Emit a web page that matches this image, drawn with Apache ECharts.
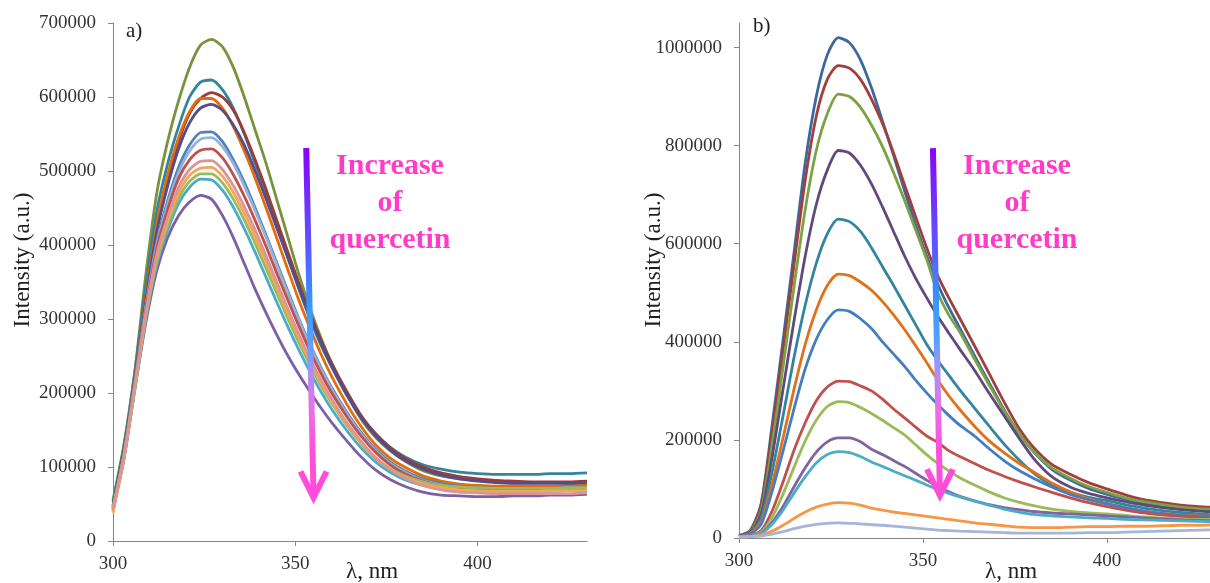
<!DOCTYPE html>
<html>
<head>
<meta charset="utf-8">
<script src="https://cdn.jsdelivr.net/npm/echarts@6/dist/echarts.min.js"></script>
<style>
  html, body { margin: 0; padding: 0; background: #fff; }
  #chart { width: 1210px; height: 583px; }
</style>
</head>
<body>
<div id="chart"></div>
<script>
// wavelength grid (nm), shared by every spectrum
const waves = [300, 303, 306, 309, 312, 315, 318, 321, 324, 327, 330, 333, 336, 339, 342, 345, 348, 351, 354, 357, 360,
  364, 368, 372, 376, 380, 385, 390, 395, 400, 405, 410, 415, 420, 425, 430];

// panel a) intensities, in thousands of a.u.
const aOlive  = [55,130,230,360,470,540,595,640,670,678,668,640,600,555,510,460,410,360,315,275,240, 200,165,140,122,108, 95,88,84,82,80,80,79,79,79,80];
const aTeal   = [52,128,228,345,445,510,560,600,620,623,610,585,550,510,470,425,382,340,300,265,235, 198,168,145,127,114, 103,97,93,91,90,90,90,91,91,92];
const aMaroon = [48,122,220,330,425,490,540,578,598,606,600,582,552,515,475,432,390,348,308,272,240, 203,170,145,126,112, 100,92,87,84,82,81,80,80,80,81];
const aOrange = [40,118,218,330,428,495,545,580,598,598,585,560,527,490,450,408,366,325,288,253,222, 186,155,130,112,100, 88,81,77,75,74,74,74,74,75,75];
const aIndigo = [47,120,218,325,418,480,530,565,585,590,582,562,535,500,462,422,382,342,304,268,236, 199,167,142,123,109, 97,89,84,81,79,78,78,78,78,79];
const aBlue   = [46,118,215,318,405,460,505,535,552,553,540,515,485,450,413,375,337,300,266,235,207, 175,147,124,107,95, 84,78,74,72,71,71,71,71,72,72];
const aSteel  = [45,117,213,315,400,455,498,527,543,545,533,510,480,446,410,372,334,298,264,233,205, 173,145,122,105,93, 82,76,72,70,69,69,69,70,70,71];
const aRed    = [44,116,212,312,395,448,490,515,528,530,518,495,466,433,398,361,325,290,257,227,200, 169,142,120,103,91, 81,75,72,70,69,69,69,69,70,70];
const aPurple = [42,110,205,295,365,410,440,458,467,462,440,410,375,340,308,278,250,225,202,180,160, 136,114,96,83,74, 66,62,61,60,60,61,61,62,62,63];
const aCyan   = [44,114,206,300,373,420,456,478,489,488,474,451,422,390,356,322,289,258,229,202,178, 150,126,107,93,83, 75,70,68,67,67,67,67,67,68,68];
const aLime   = [45,115,208,303,378,426,463,486,496,496,484,462,434,402,368,334,300,268,238,210,186, 157,132,112,98,88, 80,75,73,72,71,71,71,71,72,72];
const aPeach  = [38,112,208,305,383,432,470,494,504,505,493,471,443,411,377,342,307,274,243,214,189, 159,133,112,97,86, 77,72,69,68,67,67,67,68,68,68];
const aPink   = [43,115,210,308,388,438,478,502,513,514,502,480,452,420,385,349,313,279,247,218,192, 161,135,113,97,85, 75,69,66,65,64,64,64,64,64,65];

// panel b) intensities, in thousands of a.u.
const bNavy    = [5,15,70,230,405,585,765,900,985,1020,1010,975,918,850,780,708,638,575,518,470,428, 372,316,262,214,176, 140,118,101,89,79,71,65,61,57,55];
const bMaroon  = [5,14,65,215,385,560,730,860,935,963,958,935,895,845,785,720,655,592,535,490,448, 392,335,278,225,185, 150,130,113,100,88,78,72,67,64,62];
const bGreen   = [4,12,55,190,350,515,670,790,865,905,900,878,842,798,745,688,628,568,500,455,420, 365,312,260,214,177, 143,122,105,93,82,74,68,63,60,58];
const bIndigo  = [4,11,48,165,305,445,575,680,750,790,785,760,722,675,625,575,530,490,452,418,385, 342,295,250,205,163, 125,104,91,82,74,67,62,58,55,53];
const bTeal    = [4,10,40,135,250,370,475,560,620,650,645,625,592,553,515,475,435,395,362,332,302, 265,228,192,160,133, 108,93,83,76,68,61,56,52,49,47];
const bOrange  = [3,9,33,110,205,305,395,465,515,538,535,522,505,482,455,425,392,358,322,290,262, 228,198,174,153,135, 112,94,80,70,62,55,50,47,45,44];
const bBlue    = [3,8,28,95,178,265,345,405,445,465,462,447,427,400,375,350,322,296,272,250,230, 208,182,158,138,122, 104,89,78,70,62,55,50,46,44,43];
const bRed     = [2,6,15,55,115,180,235,280,308,320,319,310,300,283,263,245,226,208,195,178,166, 152,138,126,115,105, 93,82,72,64,57,51,47,44,41,40];
const bLime    = [2,5,12,42,90,145,198,240,268,278,276,266,254,240,225,210,190,170,152,137,123, 108,94,82,73,66, 59,54,51,49,46,43,41,39,38,38];
const bPurple  = [2,5,10,32,65,105,143,175,196,204,204,196,181,170,158,146,132,118,105,94,85, 76,68,62,58,54, 51,49,47,45,43,41,39,37,36,35];
const bCyan    = [2,4,9,28,57,92,125,153,170,176,174,166,155,146,136,127,118,108,99,91,84, 75,67,59,53,48, 45,43,41,40,38,37,36,35,34,33];
const bApricot = [2,3,6,14,26,40,53,63,69,72,71,67,61,57,53,50,47,44,41,38,35, 31,28,25,22,21, 21,22,23,23,24,24,25,26,26,27];
const bSteel   = [2,3,4,8,13,19,24,28,30,31,30,29,27,26,24,22,20,18,16,15,14, 13,12,11,10,10, 10,10,11,11,12,13,14,15,16,17];

// tick labels
const xTicks = [300, 350, 400];
const yTicksA = [0, 100000, 200000, 300000, 400000, 500000, 600000, 700000];
const yTicksB = [0, 200000, 400000, 600000, 800000, 1000000];

const panelA = [
  ["olive", "#77933C", aOlive], ["teal", "#31859C", aTeal], ["maroon", "#9B3A37", aMaroon],
  ["orange", "#E46C0A", aOrange], ["indigo", "#574C8A", aIndigo], ["blue", "#4F81BD", aBlue],
  ["steel", "#95B3D7", aSteel], ["red", "#C0504D", aRed], ["purple", "#7D5FA6", aPurple],
  ["cyan", "#4BACC6", aCyan], ["lime", "#9BBB59", aLime], ["peach", "#F7A35C", aPeach],
  ["pink", "#D99694", aPink]
];
const panelB = [
  ["navy", "#3A68A0", bNavy], ["maroon", "#A0403C", bMaroon], ["green", "#7DA244", bGreen],
  ["indigo", "#604A7B", bIndigo], ["teal", "#31859C", bTeal], ["orange", "#E0701A", bOrange],
  ["blue", "#457EC0", bBlue], ["red", "#C0504D", bRed], ["lime", "#9BBB59", bLime],
  ["purple", "#8064A2", bPurple], ["cyan", "#4BACC6", bCyan], ["apricot", "#F79646", bApricot],
  ["steel", "#A5B5D8", bSteel]
];

const serif = "Liberation Serif";
const axisGray = "#868686";
const labelColor = "#333333";

function toSeries(list, idx) {
  return list.map(([name, color, vals]) => ({
    name: name,
    type: "line",
    xAxisIndex: idx,
    yAxisIndex: idx,
    data: waves.map((w, i) => [w, vals[i] * 1000]),
    showSymbol: false,
    smooth: 0.25,
    silent: true,
    lineStyle: { color: color, width: 2.8 },
    itemStyle: { color: color }
  }));
}

function xAxis(grid, max) {
  return {
    type: "value", gridIndex: grid, min: 300, max: max,
    splitLine: { show: false },
    axisLine: { lineStyle: { color: axisGray, width: 1 } },
    axisTick: { customValues: xTicks, length: 5, lineStyle: { color: axisGray } },
    axisLabel: { customValues: xTicks, margin: 14, fontFamily: serif, fontSize: 19, color: labelColor }
  };
}
function yAxis(grid, max, ticks) {
  return {
    type: "value", gridIndex: grid, min: 0, max: max,
    splitLine: { show: false },
    axisLine: { show: true, lineStyle: { color: axisGray, width: 1 } },
    axisTick: { show: true, customValues: ticks, length: 5, lineStyle: { color: axisGray } },
    axisLabel: { customValues: ticks, margin: 17, fontFamily: serif, fontSize: 19, color: labelColor,
      formatter: v => String(v) }
  };
}

const chart = echarts.init(document.getElementById("chart"));
chart.setOption({
  animation: false,
  backgroundColor: "#fff",
  grid: [
    { left: 113, top: 23, width: 474, height: 518 },
    { left: 739, top: 23, width: 471, height: 515 }
  ],
  xAxis: [xAxis(0, 430), xAxis(1, 428)],
  yAxis: [yAxis(0, 700000, yTicksA), yAxis(1, 1050000, yTicksB)],
  series: toSeries(panelA, 0).concat(toSeries(panelB, 1))
});

// arrow ends in data units: [nm, intensity]
const arrowA = { from: [353, 531000], to: [355, 52000] };
const arrowB = { from: [352.7, 795000], to: [354.6, 77000] };

const arrowStops = [
  { offset: 0, color: "#8800FF" },
  { offset: 0.3, color: "#5A5CFF" },
  { offset: 0.45, color: "#3399FF" },
  { offset: 0.55, color: "#55A0FF" },
  { offset: 0.63, color: "#A094F4" },
  { offset: 0.74, color: "#E672E6" },
  { offset: 0.86, color: "#FF50DC" },
  { offset: 1, color: "#FF4CDA" }
];

function arrow(spec, grid) {
  const a = chart.convertToPixel({ gridIndex: grid }, spec.from);
  const b = chart.convertToPixel({ gridIndex: grid }, spec.to);
  const tip = [b[0], b[1] - 5];
  return [
    {
      type: "line", z: 100,
      shape: { x1: a[0], y1: a[1], x2: b[0], y2: b[1] - 6 },
      style: {
        lineWidth: 6,
        stroke: { type: "linear", x: 0, y: 0, x2: 0, y2: 1, colorStops: arrowStops }
      }
    },
    {
      type: "polyline", z: 101,
      shape: { points: [[tip[0] - 13, tip[1] - 26], tip, [tip[0] + 13, tip[1] - 26]] },
      style: { stroke: "#FF4CDA", lineWidth: 6, fill: null, lineJoin: "miter" }
    }
  ];
}

function note(x) {
  return {
    type: "text", x: x, y: 148, z: 102,
    style: {
      text: "Increase\nof\nquercetin", align: "center", verticalAlign: "top",
      fontFamily: serif, fontWeight: "bold", fontSize: 30, lineHeight: 37, fill: "#FF3CC8"
    }
  };
}
function title(text, x, y, rot) {
  return {
    type: "text", x: x, y: y, rotation: rot || 0, z: 102,
    style: { text: text, align: "center", verticalAlign: "middle", fontFamily: serif, fontSize: 23, fill: "#1e1e1e" }
  };
}

chart.setOption({
  graphic: [].concat(
    arrow(arrowA, 0),
    arrow(arrowB, 1),
    [
      note(390),
      note(1017),
      title("Intensity (a.u.)", 23, 260, Math.PI / 2),
      title("Intensity (a.u.)", 654, 260, Math.PI / 2),
      title("\u03bb, nm", 372, 572),
      title("\u03bb, nm", 1011, 572),
      { type: "text", x: 126, y: 21, style: { text: "a)", fontFamily: serif, fontSize: 21, fill: "#1e1e1e" } },
      { type: "text", x: 753, y: 16, style: { text: "b)", fontFamily: serif, fontSize: 21, fill: "#1e1e1e" } }
    ]
  )
});
</script>
</body>
</html>
